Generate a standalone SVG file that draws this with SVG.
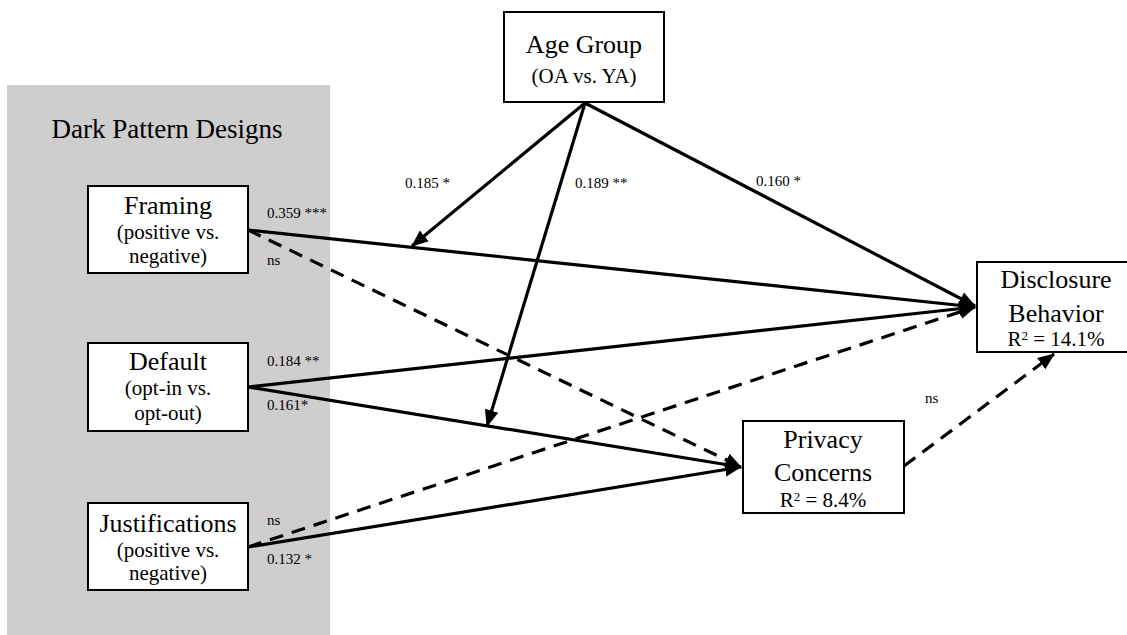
<svg xmlns="http://www.w3.org/2000/svg" width="1127" height="635" viewBox="0 0 1127 635" font-family="'Liberation Serif', 'DejaVu Serif', serif">
<defs>
<style>
text{font-family:"Liberation Serif","DejaVu Serif",serif;fill:#000}
.t{font-size:26px;text-anchor:middle}
.s{font-size:21px;text-anchor:middle}
.l{font-size:15px}
.h{font-size:27px;text-anchor:middle}
.box{fill:#fff;stroke:#000;stroke-width:2}
.c{stroke:#000;stroke-width:3.2;fill:none}
.d{stroke-dasharray:14 9}
.sup{font-size:13px}
</style>
<marker id="ah" markerUnits="userSpaceOnUse" markerWidth="18" markerHeight="16" refX="16" refY="8" orient="auto">
<path d="M0,1 L17,8 L0,15 Z" fill="#000"/>
</marker>
</defs>
<rect id="panel" x="7" y="85" width="323" height="550" fill="#cfcdce"/>
<text class="h" x="167" y="138">Dark Pattern Designs</text>
<g id="connectors">
<line class="c" x1="248" y1="230" x2="975" y2="307" marker-end="url(#ah)"/>
<line class="c d" x1="248" y1="230" x2="741" y2="467" marker-end="url(#ah)"/>
<line class="c" x1="248" y1="387" x2="975" y2="307" marker-end="url(#ah)"/>
<line class="c" x1="248" y1="387" x2="741" y2="467" marker-end="url(#ah)"/>
<line class="c d" x1="248" y1="547" x2="975" y2="307" marker-end="url(#ah)"/>
<line class="c" x1="248" y1="547" x2="741" y2="467" marker-end="url(#ah)"/>
<line class="c d" x1="904" y1="466" x2="1054" y2="354" marker-end="url(#ah)"/>
<line class="c" x1="585" y1="103" x2="975" y2="306" marker-end="url(#ah)"/>
<line class="c" x1="585" y1="103" x2="412" y2="246" marker-end="url(#ah)"/>
<line class="c" x1="585" y1="103" x2="487" y2="426" marker-end="url(#ah)"/>
<text class="l" x="267" y="218">0.359 ***</text>
<text class="l" x="267" y="265">ns</text>
<text class="l" x="267" y="366">0.184 **</text>
<text class="l" x="267" y="410">0.161*</text>
<text class="l" x="267" y="525">ns</text>
<text class="l" x="267" y="564">0.132 *</text>
<text class="l" x="405" y="188">0.185 *</text>
<text class="l" x="575" y="188">0.189 **</text>
<text class="l" x="756" y="186">0.160 *</text>
<text class="l" x="925" y="403">ns</text>
</g>
<g id="age">
<rect class="box" x="504" y="12" width="160" height="90"/>
<text class="t" x="584" y="53">Age Group</text>
<text class="s" x="584" y="83">(OA vs. YA)</text>
</g>
<g id="framing">
<rect class="box" x="88" y="186" width="160" height="87"/>
<text class="t" x="168" y="214">Framing</text>
<text class="s" x="168" y="239">(positive vs.</text>
<text class="s" x="168" y="263">negative)</text>
</g>
<g id="default">
<rect class="box" x="88" y="343" width="160" height="88"/>
<text class="t" x="168" y="370">Default</text>
<text class="s" x="168" y="395">(opt-in vs.</text>
<text class="s" x="168" y="420">opt-out)</text>
</g>
<g id="justifications">
<rect class="box" x="88" y="503" width="160" height="87"/>
<text class="t" x="168" y="532">Justifications</text>
<text class="s" x="168" y="557">(positive vs.</text>
<text class="s" x="168" y="580">negative)</text>
</g>
<g id="disclosure">
<rect class="box" x="977" y="262" width="160" height="90"/>
<text class="t" x="1056" y="288">Disclosure</text>
<text class="t" x="1056" y="322">Behavior</text>
<text class="s" x="1056" y="346">R<tspan class="sup" dy="-6">2</tspan><tspan dy="6"> = 14.1%</tspan></text>
</g>
<g id="privacy">
<rect class="box" x="743" y="421" width="161" height="92"/>
<text class="t" x="823" y="448">Privacy</text>
<text class="t" x="823" y="481">Concerns</text>
<text class="s" x="823" y="507">R<tspan class="sup" dy="-6">2</tspan><tspan dy="6"> = 8.4%</tspan></text>
</g>
</svg>
